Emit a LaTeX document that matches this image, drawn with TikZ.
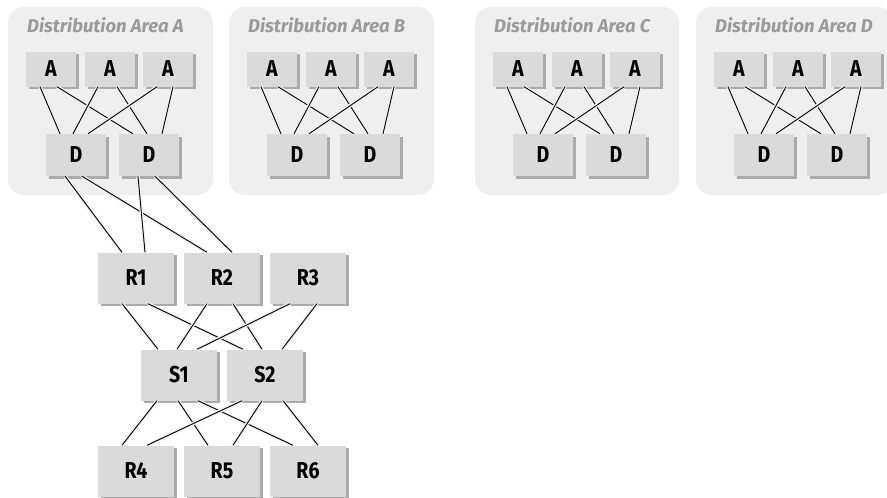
\documentclass[tikz,border=0pt]{standalone}
\usepackage{fontspec}
\setmainfont{Fira Sans}
\usetikzlibrary{shadows}
\definecolor{areafill}{HTML}{EFEFEF}
\definecolor{boxfill}{HTML}{DADADA}
\definecolor{boxshadow}{HTML}{ABABAB}
\definecolor{titlegray}{HTML}{9A9A9A}
\newcommand\devlabel[1]{\scalebox{0.85}[1]{#1}}
\begin{document}
\begin{tikzpicture}[x=1pt,y=-1pt,
  devbox/.style={fill=boxfill, inner sep=0pt,
    font=\bfseries\fontsize{23}{23}\selectfont,
    drop shadow={shadow xshift=2.5pt, shadow yshift=-2.5pt, fill=boxshadow, opacity=1}},
  abox/.style={devbox, minimum width=50pt, minimum height=35pt},
  dbox/.style={devbox, minimum width=60pt, minimum height=42pt},
  rbox/.style={devbox, minimum width=76pt, minimum height=51pt},
  area/.style={fill=areafill, rounded corners=16pt},
  areatitle/.style={anchor=west, text=titlegray, inner sep=0pt,
    font=\bfseries\itshape\fontsize{18.5}{18.5}\selectfont},
  link/.style={line width=0.9pt, preaction={draw=areafill, line width=3.5pt}}]
\useasboundingbox (0,0) rectangle (887,498);

% distribution areas
\foreach \p/\dx/\w in {A/0/205, B/221/205, C/467/204, D/688/198} {
  \begin{scope}[xshift=\dx pt]
    \fill[area] (8,7) rectangle ++(\w,188);
    \node[areatitle] (\p-title) at (27,25) {Distribution Area \p};
    \node[abox] (\p-a1) at (51,69) {\devlabel{A}};
    \node[abox] (\p-a2) at (110,69) {\devlabel{A}};
    \node[abox] (\p-a3) at (168,69) {\devlabel{A}};
    \node[dbox] (\p-d1) at (76,155) {\devlabel{D}};
    \node[dbox] (\p-d2) at (149,155) {\devlabel{D}};
    \draw[link] ([xshift=-11pt]\p-a1.south) -- ([xshift=-16pt]\p-d1.north);
    \draw[link] ([xshift=6pt]\p-a1.south) -- ([xshift=-16pt]\p-d2.north);
    \draw[link] ([xshift=-12pt]\p-a2.south) -- ([xshift=-3pt]\p-d1.north);
    \draw[link] ([xshift=7pt]\p-a2.south) -- ([xshift=-2pt]\p-d2.north);
    \draw[link] ([xshift=-11pt]\p-a3.south) -- ([xshift=12pt]\p-d1.north);
    \draw[link] ([xshift=5pt]\p-a3.south) -- ([xshift=13pt]\p-d2.north);
  \end{scope}
}

% core
\node[rbox] (r1) at (136,278) {\devlabel{R1}};
\node[rbox] (r2) at (222,278) {\devlabel{R2}};
\node[rbox] (r3) at (308,278) {\devlabel{R3}};
\node[rbox] (s1) at (179,375) {\devlabel{S1}};
\node[rbox] (s2) at (265,375) {\devlabel{S2}};
\node[rbox] (r4) at (136,471) {\devlabel{R4}};
\node[rbox] (r5) at (222,471) {\devlabel{R5}};
\node[rbox] (r6) at (308,471) {\devlabel{R6}};

\draw[link] ([xshift=-11pt]A-d1.south) -- ([xshift=-14pt]r1.north);
\draw[link] ([xshift=6pt]A-d1.south) -- ([xshift=-15pt]r2.north);
\draw[link] ([xshift=-11pt]A-d2.south) -- ([xshift=9pt]r1.north);
\draw[link] ([xshift=6pt]A-d2.south) -- ([xshift=10pt]r2.north);

\draw[link] ([xshift=-14pt]r1.south) -- ([xshift=-21pt]s1.north);
\draw[link] ([xshift=12pt]r1.south) -- ([xshift=-22pt]s2.north);
\draw[link] ([xshift=-15pt]r2.south) -- ([xshift=-2pt]s1.north);
\draw[link] ([xshift=11pt]r2.south) -- ([xshift=-3pt]s2.north);
\draw[link] ([xshift=-18pt]r3.south) -- ([xshift=18pt]s1.north);
\draw[link] ([xshift=9pt]r3.south) -- ([xshift=17pt]s2.north);

\draw[link] ([xshift=-22pt]s1.south) -- ([xshift=-14pt]r4.north);
\draw[link] ([xshift=-1pt]s1.south) -- ([xshift=-14pt]r5.north);
\draw[link] ([xshift=19pt]s1.south) -- ([xshift=-15pt]r6.north);
\draw[link] ([xshift=-23pt]s2.south) -- ([xshift=11pt]r4.north);
\draw[link] ([xshift=-3pt]s2.south) -- ([xshift=11pt]r5.north);
\draw[link] ([xshift=18pt]s2.south) -- ([xshift=10pt]r6.north);
\end{tikzpicture}
\end{document}
